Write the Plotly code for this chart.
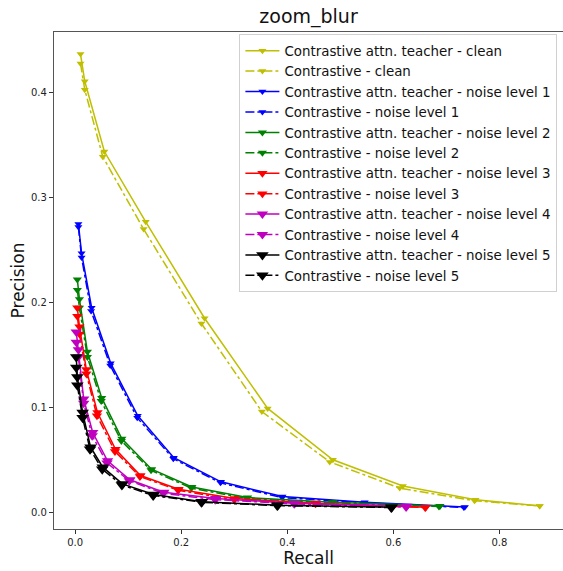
import plotly.graph_objects as go

title = "zoom_blur"

# Precision/recall points per noise level (teacher = solid, baseline = dash-dot)
clean_teacher_recall = [0.010, 0.018, 0.055, 0.133, 0.244, 0.363, 0.486, 0.618, 0.755, 0.876]
clean_teacher_prec = [0.437, 0.411, 0.344, 0.277, 0.185, 0.099, 0.050, 0.025, 0.012, 0.006]
clean_base_recall = [0.010, 0.018, 0.052, 0.129, 0.238, 0.352, 0.480, 0.612, 0.753, 0.876]
clean_base_prec = [0.428, 0.403, 0.339, 0.270, 0.180, 0.096, 0.048, 0.023, 0.011, 0.006]

n1_teacher_recall = [0.006, 0.012, 0.031, 0.067, 0.118, 0.186, 0.275, 0.391, 0.546, 0.735]
n1_teacher_prec = [0.275, 0.247, 0.195, 0.142, 0.092, 0.052, 0.029, 0.015, 0.0096, 0.005]
n1_base_recall = [0.006, 0.012, 0.030, 0.066, 0.117, 0.185, 0.274, 0.390, 0.545, 0.733]
n1_base_prec = [0.272, 0.243, 0.192, 0.140, 0.090, 0.051, 0.028, 0.014, 0.009, 0.0045]

n2_teacher_recall = [0.004, 0.008, 0.023, 0.050, 0.088, 0.144, 0.220, 0.325, 0.486, 0.688]
n2_teacher_prec = [0.222, 0.203, 0.153, 0.109, 0.070, 0.041, 0.024, 0.014, 0.0096, 0.006]
n2_base_recall = [0.004, 0.008, 0.023, 0.049, 0.087, 0.143, 0.219, 0.324, 0.485, 0.686]
n2_base_prec = [0.212, 0.195, 0.148, 0.106, 0.068, 0.040, 0.023, 0.013, 0.009, 0.0055]

n3_teacher_recall = [0.004, 0.008, 0.021, 0.042, 0.076, 0.123, 0.195, 0.301, 0.454, 0.661]
n3_teacher_prec = [0.195, 0.177, 0.136, 0.095, 0.060, 0.035, 0.022, 0.013, 0.0086, 0.0048]
n3_base_recall = [0.004, 0.008, 0.021, 0.041, 0.075, 0.122, 0.194, 0.300, 0.453, 0.660]
n3_base_prec = [0.187, 0.170, 0.132, 0.092, 0.058, 0.034, 0.021, 0.012, 0.008, 0.0045]

n4_teacher_recall = [0.002, 0.006, 0.016, 0.033, 0.061, 0.103, 0.167, 0.265, 0.414, 0.625]
n4_teacher_prec = [0.172, 0.155, 0.108, 0.076, 0.049, 0.031, 0.019, 0.013, 0.0086, 0.0057]
n4_base_recall = [0.002, 0.006, 0.016, 0.032, 0.060, 0.102, 0.166, 0.264, 0.413, 0.624]
n4_base_prec = [0.162, 0.148, 0.104, 0.073, 0.047, 0.030, 0.018, 0.012, 0.008, 0.005]

n5_teacher_recall = [0.002, 0.004, 0.014, 0.029, 0.052, 0.089, 0.148, 0.239, 0.382, 0.597]
n5_teacher_prec = [0.148, 0.129, 0.095, 0.062, 0.043, 0.027, 0.017, 0.010, 0.0067, 0.0048]
n5_base_recall = [0.002, 0.004, 0.014, 0.028, 0.051, 0.088, 0.147, 0.238, 0.381, 0.596]
n5_base_prec = [0.138, 0.121, 0.090, 0.060, 0.041, 0.026, 0.016, 0.0095, 0.0063, 0.0045]

x_ticks = [0.0, 0.2, 0.4, 0.6, 0.8]
y_ticks = [0.0, 0.1, 0.2, 0.3, 0.4]

levels = [
    ("clean", "#bfbf00", 7, clean_teacher_recall, clean_teacher_prec, clean_base_recall, clean_base_prec),
    ("noise level 1", "#0000ff", 7, n1_teacher_recall, n1_teacher_prec, n1_base_recall, n1_base_prec),
    ("noise level 2", "#008000", 8, n2_teacher_recall, n2_teacher_prec, n2_base_recall, n2_base_prec),
    ("noise level 3", "#ff0000", 9, n3_teacher_recall, n3_teacher_prec, n3_base_recall, n3_base_prec),
    ("noise level 4", "#bf00bf", 10, n4_teacher_recall, n4_teacher_prec, n4_base_recall, n4_base_prec),
    ("noise level 5", "#000000", 11, n5_teacher_recall, n5_teacher_prec, n5_base_recall, n5_base_prec),
]

fig = go.Figure()
for name, color, msize, tx, ty, bx, by in levels:
    fig.add_trace(go.Scatter(
        x=tx, y=ty, mode="lines+markers",
        name=f"Contrastive attn. teacher - {name}",
        line=dict(color=color, width=1.5, dash="solid"),
        marker=dict(symbol="triangle-down", size=msize, color=color),
    ))
    fig.add_trace(go.Scatter(
        x=bx, y=by, mode="lines+markers",
        name=f"Contrastive - {name}",
        line=dict(color=color, width=1.5, dash="dashdot"),
        marker=dict(symbol="triangle-down", size=msize, color=color),
    ))

axis_common = dict(
    showgrid=False, zeroline=False, showline=True, linecolor="#555555", linewidth=1.2,
    mirror=True, ticks="outside", ticklen=4, tickcolor="#333333",
    tickfont=dict(family="DejaVu Sans", size=10, color="#222222"),
)

fig.update_layout(
    width=563, height=571,
    margin=dict(l=54, r=0, t=32, b=42),
    paper_bgcolor="white", plot_bgcolor="white",
    title=dict(text=title, x=0.548, xanchor="center", y=0.972, yanchor="middle",
               font=dict(family="DejaVu Sans", size=19, color="#111111")),
    xaxis=dict(range=[-0.04, 0.92], tickvals=x_ticks, ticktext=[f"{v:.1f}" for v in x_ticks],
               title=dict(text="Recall", font=dict(family="DejaVu Sans", size=17, color="#111111"), standoff=0),
               **axis_common),
    yaxis=dict(range=[-0.016, 0.458], tickvals=y_ticks, ticktext=[f"{v:.1f}" for v in y_ticks],
               title=dict(text="Precision", font=dict(family="DejaVu Sans", size=17, color="#111111"), standoff=2),
               **axis_common),
    legend=dict(
        x=0.989, xanchor="right", y=0.995, yanchor="top",
        bgcolor="white", bordercolor="#d0d0d0", borderwidth=1,
        font=dict(family="DejaVu Sans", size=13.4, color="#111111"),
        tracegroupgap=0, itemwidth=34,
    ),
    showlegend=True,
)

fig.write_html("out.html")
